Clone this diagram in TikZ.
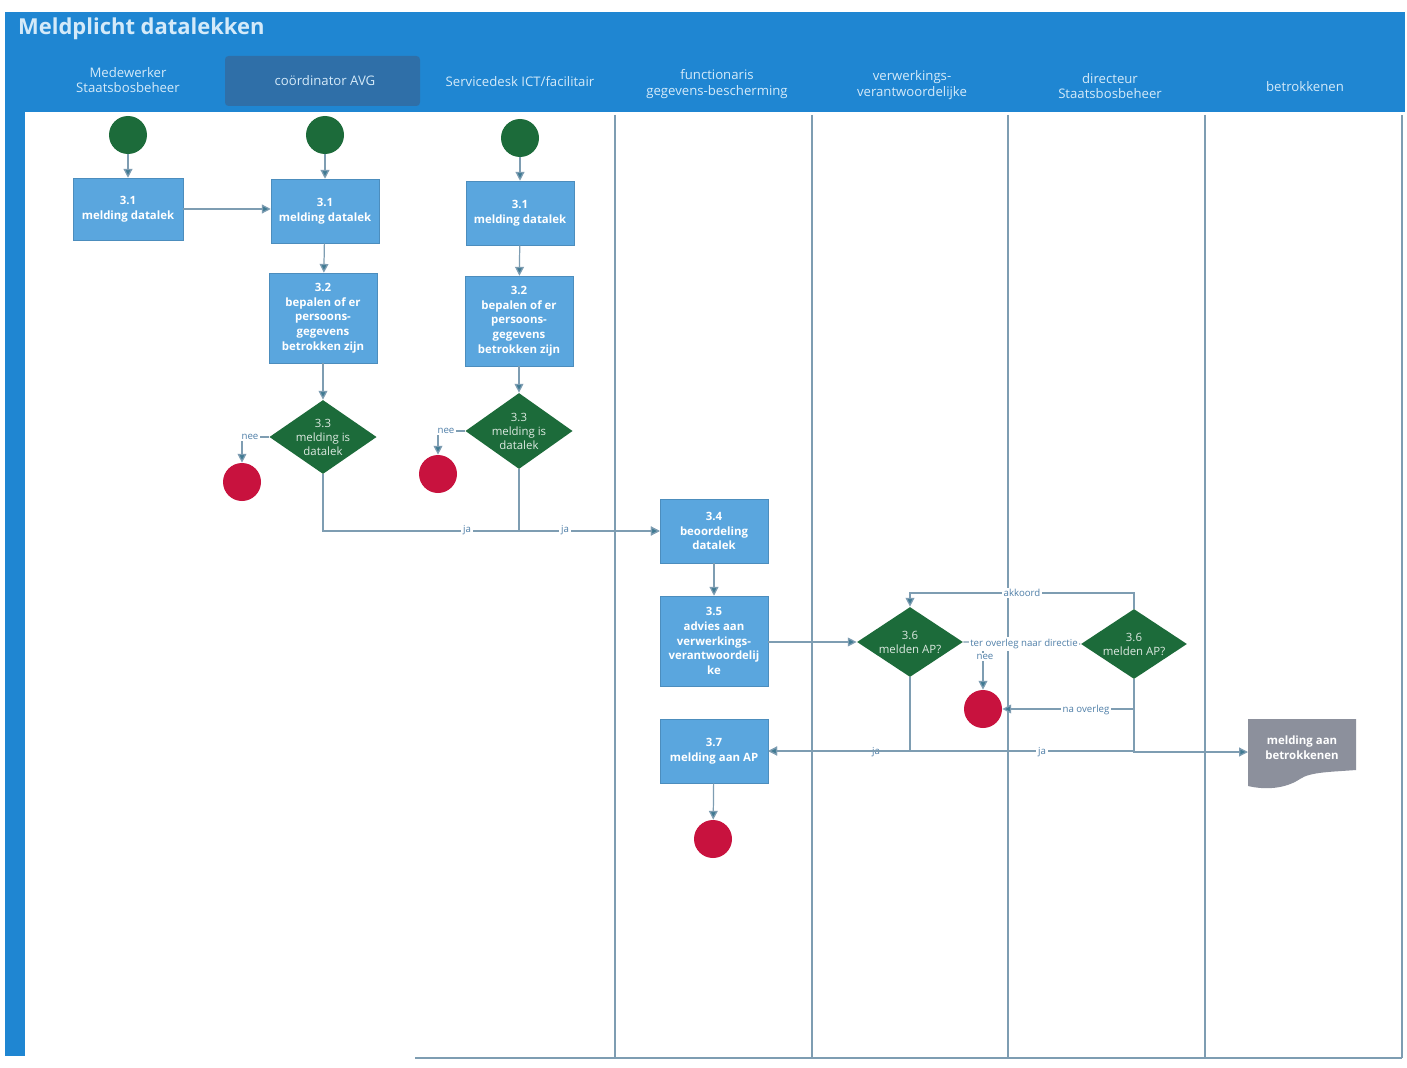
\documentclass[tikz,border=0pt]{standalone}
\usepackage{fontspec}
\setmainfont{Open Sans}
\usetikzlibrary{arrows.meta,shapes.geometric}
\definecolor{MDHead}{HTML}{1F86D2}
\definecolor{MDHeadSel}{HTML}{2F6FA8}
\definecolor{MDHeadTxt}{HTML}{D4EAF9}
\definecolor{MDBox}{HTML}{5AA6DE}
\definecolor{MDGreen}{HTML}{1C6B3A}
\definecolor{MDRed}{HTML}{C8123E}
\definecolor{MDLine}{HTML}{7E9DB2}
\definecolor{MDArrow}{HTML}{3F7A92}
\definecolor{MDDoc}{HTML}{8C909C}
\definecolor{MDLbl}{HTML}{4F7FA8}

\begin{document}
\begin{tikzpicture}[x=0.02cm,y=-0.02cm,
  lanehead/.style={align=center,text=MDHeadTxt,font=\fontsize{7.5}{9}\selectfont},
  taskbox/.style={fill=MDBox,draw=MDBox!85!black,line width=.3pt,text=white,align=center,
    font=\fontsize{6.5}{8.4}\selectfont\bfseries,inner sep=2pt},
  decision/.style={diamond,fill=MDGreen,text=white!85!MDGreen,align=center,aspect=1.45,
    font=\fontsize{6.5}{8}\selectfont,inner sep=0pt},
  startdot/.style={circle,fill=MDGreen,minimum size=38*0.02cm,inner sep=0pt},
  enddot/.style={circle,fill=MDRed,minimum size=38*0.02cm,inner sep=0pt},
  flow/.style={draw=MDLine,line width=.7pt,-{Triangle[length=5pt,width=5pt,fill=MDArrow]}},
  flowlbl/.style={text=MDLbl,font=\fontsize{5.5}{6.5}\selectfont,inner sep=1pt,fill=white}]
\path[use as bounding box] (0,0) rectangle (1407,1068);
% frame and header band
\fill[MDHead] (5,12) rectangle (1405,112);
\fill[MDHead] (5,12) rectangle (25,1056);
\fill[white] (25,112) rectangle (1402,1058);
\fill[MDHeadSel,rounded corners=2pt] (225,56) rectangle (420,106);
\node[anchor=west,text=MDHeadTxt,font=\fontsize{12.5}{14}\selectfont\bfseries] (title) at (12,29) {Meldplicht datalekken};
% lanes
\foreach \lx in {615,812,1008,1205,1402}
  \draw[MDLine,line width=.8pt] (\lx,115) -- (\lx,1058);
\draw[MDLine,line width=.8pt] (415,1058) -- (1402,1058);
\node[lanehead] (lane1) at (128,80) {Medewerker\\Staatsbosbeheer};
\node[lanehead] (lane2) at (325,81) {coördinator AVG};
\node[lanehead] (lane3) at (520,82) {Servicedesk ICT/facilitair};
\node[lanehead] (lane4) at (717,84) {functionaris\\gegevens-bescherming};
\node[lanehead] (lane5) at (912,85) {verwerkings-\\verantwoordelijke};
\node[lanehead] (lane6) at (1110,86) {directeur\\Staatsbosbeheer};
\node[lanehead] (lane7) at (1305,87) {betrokkenen};
% start points
\node[startdot] (s1) at (128,135) {};
\node[startdot] (s2) at (325,135) {};
\node[startdot] (s3) at (520,138) {};
% tasks
\node[taskbox,minimum width=110*0.02cm,minimum height=62*0.02cm] (t31a) at (128,209) {3.1\\melding datalek};
\node[taskbox,minimum width=108*0.02cm,minimum height=64*0.02cm] (t31b) at (325,211) {3.1\\melding datalek};
\node[taskbox,minimum width=108*0.02cm,minimum height=64*0.02cm] (t31c) at (520,213) {3.1\\melding datalek};
\node[taskbox,minimum width=108*0.02cm,minimum height=90*0.02cm] (t32a) at (323,318) {3.2\\bepalen of er\\persoons-\\gegevens\\betrokken zijn};
\node[taskbox,minimum width=108*0.02cm,minimum height=90*0.02cm] (t32b) at (519,321) {3.2\\bepalen of er\\persoons-\\gegevens\\betrokken zijn};
\node[taskbox,minimum width=108*0.02cm,minimum height=64*0.02cm] (t34) at (714,531) {3.4\\beoordeling\\datalek};
\node[taskbox,minimum width=108*0.02cm,minimum height=90*0.02cm] (t35) at (714,641) {3.5\\advies aan\\verwerkings-\\verantwoordelij\\ke};
\node[taskbox,minimum width=108*0.02cm,minimum height=64*0.02cm] (t37) at (714,751) {3.7\\melding aan AP};
% decisions
\node[decision,minimum width=106*0.02cm,minimum height=74*0.02cm] (d33a) at (323,437) {3.3\\melding is\\datalek};
\node[decision,minimum width=106*0.02cm,minimum height=76*0.02cm] (d33b) at (519,431) {3.3\\melding is\\datalek};
\node[decision,minimum width=106*0.02cm,minimum height=70*0.02cm] (d36a) at (910,642) {3.6\\melden AP?};
\node[decision,minimum width=106*0.02cm,minimum height=70*0.02cm] (d36b) at (1134,644) {3.6\\melden AP?};
% end points
\node[enddot] (e1) at (242,482) {};
\node[enddot] (e2) at (438,474) {};
\node[enddot] (e3) at (713,839) {};
\node[enddot] (e4) at (983,709) {};
% document
\fill[MDDoc] (1248,719) -- (1356,719) -- (1356,770) .. controls (1330,772) and (1310,772) .. (1300,779)
  .. controls (1285,789) and (1265,790) .. (1248,786) -- cycle;
\node[text=white,align=center,font=\fontsize{6.5}{8.4}\selectfont\bfseries] (doc) at (1302,748) {melding aan\\betrokkenen};
\coordinate (docin) at (1248,752);
\coordinate (akk) at (1010,593);
% connectors
\draw[flow] (s1) -- (t31a);
\draw[flow] (s2) -- (t31b);
\draw[flow] (s3) -- (t31c);
\draw[flow] (t31a.east) -- (t31a.east -| t31b.west);
\draw[flow] (t31b) -- (t32a);
\draw[flow] (t31c) -- (t32b);
\draw[flow] (t32a) -- (d33a);
\draw[flow] (t32b) -- (d33b);
\draw[flow] (d33a.west) -| (e1.north);
\draw[flow] (d33b.west) -| (e2.north);
\node[flowlbl] (l1) at (250,437) {nee};
\node[flowlbl] (l2) at (446,431) {nee};
\draw[flow] (d33a.south) |- (t34.west);
\draw[flow] (d33b.south) |- (t34.west);
\node[flowlbl] (l3) at (467,530) {ja};
\node[flowlbl] (l4) at (565,530) {ja};
\draw[flow] (t34) -- (t35);
\draw[flow] (t35.east |- d36a.west) -- (d36a.west);
\draw[flow] (d36a.east) -- (d36b.west);
\draw[flow] (d36a.east -| e4) -- (e4.north);
\node[flowlbl] (l5) at (1024,644) {ter overleg naar directie};
\node[flowlbl] (l6) at (985,657) {nee};
\draw[flow] (d36b.north) |- (akk) -| (d36a.north);
\node[flowlbl] (l7) at (1022,593) {akkoord};
\draw[flow] (d36b.south) |- (e4.east);
\node[flowlbl] (l8) at (1086,710) {na overleg};
\draw[flow] (d36a.south) |- (t37.east);
\node[flowlbl] (l9) at (876,752) {ja};
\draw[flow] (d36b.south) |- (t37.east);
\draw[flow] (d36b.south) |- (docin);
\node[flowlbl] (l10) at (1042,752) {ja};
\draw[flow] (t37) -- (e3);
\end{tikzpicture}
\end{document}
